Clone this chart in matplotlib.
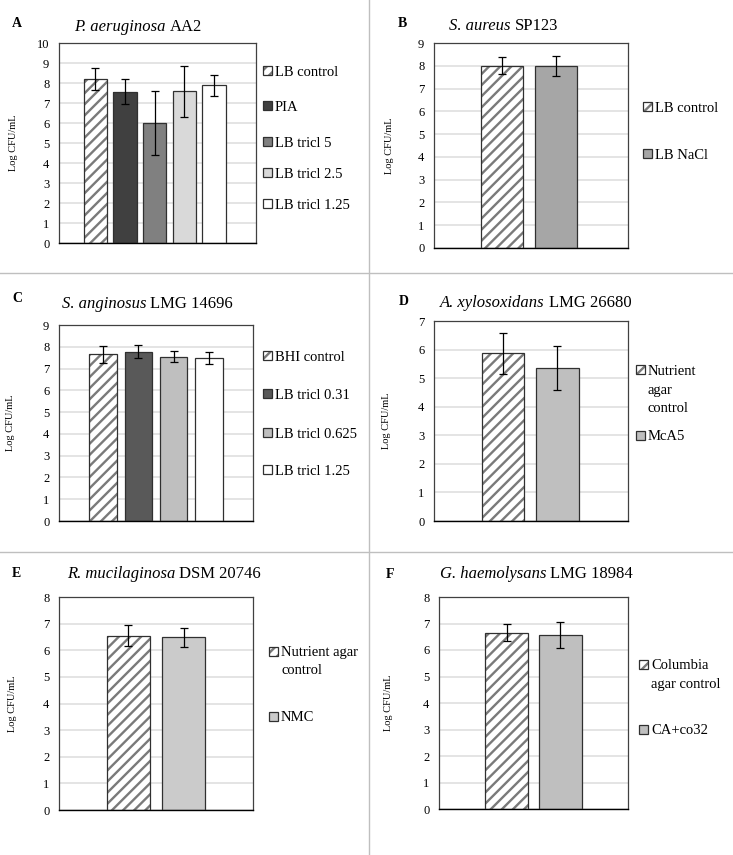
import matplotlib
matplotlib.use("Agg")
import matplotlib.pyplot as plt
from matplotlib.patches import Rectangle
from matplotlib.lines import Line2D

# ---- data ----
A_labels = ["LB control", "PIA", "LB tricl 5", "LB tricl 2.5", "LB tricl 1.25"]
A_means = [8.2, 7.57, 6.0, 7.58, 7.88]
A_err = [0.57, 0.64, 1.59, 1.27, 0.54]

B_labels = ["LB control", "LB NaCl"]
B_means = [8.0, 8.0]
B_err = [0.37, 0.44]

C_labels = ["BHI control", "LB tricl 0.31", "LB tricl 0.625", "LB tricl 1.25"]
C_means = [7.66, 7.78, 7.54, 7.47]
C_err = [0.39, 0.30, 0.25, 0.27]

D_labels = ["Nutrient\nagar\ncontrol", "McA5"]
D_means = [5.87, 5.34]
D_err = [0.71, 0.77]

E_labels = ["Nutrient agar\ncontrol", "NMC"]
E_means = [6.55, 6.49]
E_err = [0.40, 0.36]

F_labels = ["Columbia\nagar control", "CA+co32"]
F_means = [6.66, 6.58]
F_err = [0.32, 0.49]

# ---- styles ----
A_fills = ["hatch", "#404040", "#808080", "#d9d9d9", "#ffffff"]
B_fills = ["hatch", "#a6a6a6"]
C_fills = ["hatch", "#595959", "#bfbfbf", "#ffffff"]
D_fills = ["hatch", "#bfbfbf"]
E_fills = ["hatch", "#cbcbcb"]
F_fills = ["hatch", "#bfbfbf"]

W, H = 733, 855
FONT = "Liberation Serif"
HATCH_COLOR = "#7a7a7a"

plt.rcParams["font.family"] = FONT
plt.rcParams["hatch.linewidth"] = 1.7

fig = plt.figure(figsize=(W / 100, H / 100), dpi=100)
renderer = fig.canvas.get_renderer()


def fx(x):
    return x / W


def fy(y):
    return 1 - y / H


def draw_key(x, yc, fill):
    sq = 9
    origin = (fx(x), fy(yc + sq / 2))
    if fill == "hatch":
        fig.add_artist(Rectangle(origin, sq / W, sq / H,
                                 transform=fig.transFigure,
                                 facecolor="white", edgecolor=HATCH_COLOR,
                                 hatch="///", linewidth=0))
    else:
        fig.add_artist(Rectangle(origin, sq / W, sq / H,
                                 transform=fig.transFigure, facecolor=fill,
                                 linewidth=0))
    fig.add_artist(Rectangle(origin, sq / W, sq / H,
                             transform=fig.transFigure, fill=False,
                             edgecolor="#303030", linewidth=0.9))
    return sq


def draw_panel(letter, species, strain, labels, means, errs, fills, ymax,
               box, letter_xy, title_xy, ylabel_x, key_x, key_y,
               xmargin=(1.26, 1.26)):
    left, top, right, bottom = box
    ax = fig.add_axes([fx(left), fy(bottom), fx(right - left),
                       (bottom - top) / H])
    xs = list(range(len(means)))
    width = 0.79

    for x, m, fill in zip(xs, means, fills):
        if fill == "hatch":
            ax.bar(x, m, width, color="white", edgecolor=HATCH_COLOR,
                   hatch="///", linewidth=0, zorder=2)
        else:
            ax.bar(x, m, width, color=fill, linewidth=0, zorder=2)
        ax.bar(x, m, width, fill=False, edgecolor="#303030",
               linewidth=0.9, zorder=3)

    ax.errorbar(xs, means, yerr=errs, fmt="none", ecolor="black",
                elinewidth=0.9, capsize=2.6, capthick=0.9, zorder=4)

    ax.set_xlim(-xmargin[0], len(means) - 1 + xmargin[1])
    ax.set_ylim(0, ymax)
    ax.set_yticks(range(0, ymax + 1))
    ax.set_xticks([])
    ax.tick_params(axis="y", length=0, pad=7, labelsize=9)
    ax.yaxis.grid(True, color="#dcdcdc", linewidth=1.1, zorder=0)
    ax.set_axisbelow(True)
    for side in ["left", "right", "top"]:
        ax.spines[side].set_color("#404040")
        ax.spines[side].set_linewidth(0.9)
    ax.spines["bottom"].set_color("black")
    ax.spines["bottom"].set_linewidth(1.0)

    ax.set_ylabel("Log CFU/mL", fontsize=7.5)
    ax.yaxis.set_label_coords((ylabel_x - left) / (right - left), 0.5)

    fig.text(fx(letter_xy[0]), fy(letter_xy[1]), letter, fontsize=10,
             fontweight="bold", va="baseline", ha="left")

    # title: italic species followed by roman strain
    sp = fig.text(fx(title_xy[0]), fy(title_xy[1]), species, fontsize=12,
                  style="italic", va="baseline", ha="left")
    sp_right = sp.get_window_extent(renderer).x1
    fig.text(fx(sp_right + 4), fy(title_xy[1]), strain, fontsize=12,
             va="baseline", ha="left")

    # legend keys
    for label, fill, yc in zip(labels, fills, key_y):
        sq = draw_key(key_x, yc, fill)
        for i, line in enumerate(label.split("\n")):
            fig.text(fx(key_x + sq + 3), fy(yc + 5 + i * 18.5), line,
                     fontsize=10.5, va="baseline", ha="left")
    return ax


draw_panel("A", "P. aeruginosa", "AA2", A_labels, A_means, A_err, A_fills,
           10, (59, 43, 256, 243), (12, 27), (74, 31), 18, 263,
           [71, 106, 142, 173, 204], xmargin=(1.23, 1.42))
draw_panel("B", "S. aureus", "SP123", B_labels, B_means, B_err, B_fills,
           9, (434, 43, 628, 248), (398, 27), (449, 30), 394, 643,
           [107, 154], xmargin=(1.26, 1.33))
draw_panel("C", "S. anginosus", "LMG 14696", C_labels, C_means, C_err,
           C_fills, 9, (59, 325, 253, 521), (12, 302), (62, 308), 15, 263,
           [356, 394, 433, 470])
draw_panel("D", "A. xylosoxidans", "LMG 26680", D_labels, D_means, D_err,
           D_fills, 7, (434, 321, 628, 521), (399, 305), (440, 307), 391,
           636, [370, 435], xmargin=(1.27, 1.30))
draw_panel("E", "R. mucilaginosa", "DSM 20746", E_labels, E_means, E_err,
           E_fills, 8, (59, 597, 253, 810), (12, 577), (67, 578), 17, 269,
           [651, 716])
draw_panel("F", "G. haemolysans", "LMG 18984", F_labels, F_means, F_err,
           F_fills, 8, (439, 597, 628, 809), (386, 578), (440, 578), 393,
           639, [664, 729])

# panel dividers
for yline in [273, 552]:
    fig.add_artist(Line2D([0, 1], [fy(yline), fy(yline)],
                          transform=fig.transFigure, color="#bfbfbf",
                          linewidth=1))
fig.add_artist(Line2D([fx(369), fx(369)], [0, 1], transform=fig.transFigure,
                      color="#bfbfbf", linewidth=1))

fig.savefig("out.png", dpi=100)
